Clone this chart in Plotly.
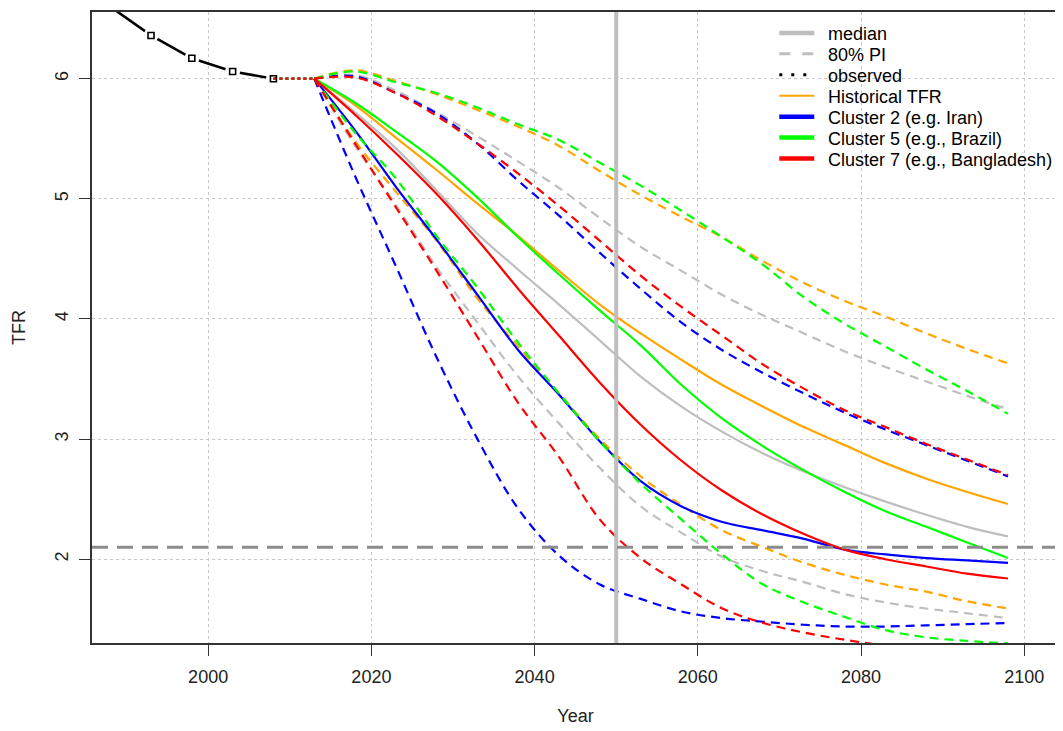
import plotly.graph_objects as go

# ---------------- data ----------------
obs_years = [1988, 1993, 1998, 2003, 2008]
obs_tfr = [6.60, 6.36, 6.17, 6.06, 6.00]

proj_years = [2008, 2013, 2018, 2023, 2028, 2033, 2038, 2043, 2048, 2053,
              2058, 2063, 2068, 2073, 2078, 2083, 2088, 2093, 2098]

gray_med = [6.0, 6.0, 5.72, 5.42, 5.07, 4.71, 4.41, 4.12, 3.82, 3.52, 3.27, 3.06, 2.88, 2.73, 2.60, 2.48, 2.37, 2.27, 2.19]
gray_up = [6.0, 6.0, 6.03, 5.90, 5.72, 5.52, 5.31, 5.09, 4.84, 4.60, 4.40, 4.20, 4.03, 3.88, 3.73, 3.60, 3.48, 3.36, 3.25]
gray_lo = [6.0, 6.0, 5.44, 4.95, 4.43, 3.97, 3.52, 3.13, 2.76, 2.44, 2.22, 2.02, 1.90, 1.81, 1.71, 1.64, 1.59, 1.55, 1.51]

orange_med = [6.0, 6.0, 5.78, 5.51, 5.24, 4.96, 4.69, 4.40, 4.12, 3.88, 3.66, 3.45, 3.27, 3.10, 2.95, 2.80, 2.67, 2.56, 2.46]
orange_up = [6.0, 6.0, 6.07, 5.98, 5.87, 5.74, 5.60, 5.44, 5.23, 5.03, 4.85, 4.68, 4.48, 4.30, 4.15, 4.02, 3.88, 3.75, 3.63]
orange_lo = [6.0, 6.0, 5.48, 5.06, 4.65, 4.17, 3.77, 3.38, 3.00, 2.69, 2.45, 2.24, 2.10, 1.97, 1.87, 1.79, 1.73, 1.65, 1.59]

blue_med = [6.0, 6.0, 5.57, 5.10, 4.66, 4.20, 3.74, 3.37, 2.98, 2.65, 2.44, 2.31, 2.24, 2.17, 2.08, 2.04, 2.01, 1.99, 1.97]
blue_up = [6.0, 6.0, 6.02, 5.88, 5.71, 5.46, 5.15, 4.86, 4.55, 4.25, 3.97, 3.74, 3.55, 3.38, 3.22, 3.08, 2.95, 2.82, 2.69]
blue_lo = [6.0, 6.0, 5.19, 4.44, 3.68, 3.00, 2.42, 2.03, 1.79, 1.67, 1.565, 1.51, 1.48, 1.455, 1.44, 1.44, 1.45, 1.46, 1.47]

green_med = [6.0, 6.0, 5.80, 5.56, 5.31, 5.01, 4.68, 4.37, 4.07, 3.78, 3.45, 3.17, 2.94, 2.74, 2.56, 2.40, 2.27, 2.14, 2.01]
green_up = [6.0, 6.0, 6.06, 5.97, 5.88, 5.76, 5.62, 5.49, 5.30, 5.11, 4.90, 4.68, 4.45, 4.18, 3.96, 3.77, 3.58, 3.40, 3.21]
green_lo = [6.0, 6.0, 5.55, 5.17, 4.69, 4.26, 3.80, 3.38, 2.98, 2.63, 2.33, 2.04, 1.79, 1.64, 1.52, 1.41, 1.35, 1.32, 1.30]

red_med = [6.0, 6.0, 5.70, 5.38, 5.04, 4.66, 4.25, 3.86, 3.47, 3.12, 2.82, 2.57, 2.37, 2.21, 2.08, 2.00, 1.94, 1.88, 1.84]
red_up = [6.0, 6.0, 6.01, 5.88, 5.69, 5.46, 5.21, 4.94, 4.65, 4.36, 4.10, 3.86, 3.62, 3.42, 3.24, 3.10, 2.96, 2.83, 2.70]
red_lo = [6.0, 6.0, 5.46, 4.93, 4.40, 3.85, 3.30, 2.85, 2.33, 2.01, 1.79, 1.59, 1.47, 1.39, 1.33, 1.28, 1.24, 1.21, 1.19]

x_ticks = [2000, 2020, 2040, 2060, 2080, 2100]
y_ticks = [2, 3, 4, 5, 6]
ref_year = 2050
ref_tfr = 2.1

legend_labels = ["median", "80% PI", "observed", "Historical TFR",
                 "Cluster 2 (e.g. Iran)", "Cluster 5 (e.g., Brazil)",
                 "Cluster 7 (e.g., Bangladesh)"]

# ---------------- styles ----------------
GRAY = "#BEBEBE"
FONT = "Liberation Sans, Arial, sans-serif"
DASH = "9px,6px"
LW = 2.2

fig = go.Figure()

# observed line first, with white halos at the points (R type="b" look)
fig.add_trace(go.Scatter(x=obs_years, y=obs_tfr, mode="lines",
                         line=dict(color="black", width=2.6),
                         showlegend=False, hoverinfo="skip"))
fig.add_trace(go.Scatter(x=obs_years, y=obs_tfr, mode="markers",
                         marker=dict(symbol="circle", size=15, color="white",
                                     line=dict(width=0)),
                         showlegend=False, hoverinfo="skip"))

series = [
    (GRAY, gray_med, gray_up, gray_lo),
    ("#FFA500", orange_med, orange_up, orange_lo),
    ("#0000FF", blue_med, blue_up, blue_lo),
    ("#00FF00", green_med, green_up, green_lo),
    ("#FF0000", red_med, red_up, red_lo),
]
for color, med, up, lo in series:
    for vals, dash in ((up, DASH), (lo, DASH), (med, "solid")):
        fig.add_trace(go.Scatter(x=proj_years[1:], y=vals[1:], mode="lines",
                                 line=dict(color=color, width=LW, dash=dash,
                                           shape="spline", smoothing=1.0),
                                 showlegend=False, hoverinfo="skip"))
    fig.add_trace(go.Scatter(x=proj_years[:2], y=med[:2], mode="lines",
                             line=dict(color=color, width=LW, dash="3px,3px"),
                             showlegend=False, hoverinfo="skip"))

fig.add_trace(go.Scatter(x=obs_years, y=obs_tfr, mode="markers",
                         marker=dict(symbol="square-open", size=6, color="black",
                                     line=dict(width=1.6, color="black")),
                         showlegend=False, hoverinfo="skip"))

# reference lines
fig.add_shape(type="line", xref="x", yref="paper", x0=ref_year, x1=ref_year, y0=0, y1=1,
              line=dict(color=GRAY, width=4))
fig.add_shape(type="line", xref="paper", yref="y", x0=0, x1=1, y0=ref_tfr, y1=ref_tfr,
              line=dict(color="#8C8C8C", width=3, dash="16px,9px"))

# ---------------- geometry (page body has an 8px margin) ----------------
OFF = 8
W, H = 1063 - OFF, 731 - OFF
ML, MR, MT, MB = 92 - OFF, 3, 10 - OFF, 88
pw, ph = W - ML - MR, H - MT - MB
PLOT_LEFT, PLOT_BOTTOM = 92, 643


def px(xp):
    return (xp - PLOT_LEFT) / pw


def py(yp):
    return (PLOT_BOTTOM - yp) / ph


# ---------------- manual legend (R-style, no box) ----------------
leg_rows = [31, 52, 73, 94, 115, 136, 157]
leg_styles = [
    dict(color=GRAY, width=4.5),
    dict(color=GRAY, width=3, dash="11px,12px"),
    dict(color="black", width=3, dash="3px,9px"),
    dict(color="#FFA500", width=2.2),
    dict(color="#0000FF", width=4.5),
    dict(color="#00FF00", width=4.5),
    dict(color="#FF0000", width=4.5),
]
for lab, yrow, st in zip(legend_labels, leg_rows, leg_styles):
    fig.add_shape(type="line", xref="paper", yref="paper",
                  x0=px(780), x1=px(815), y0=py(yrow), y1=py(yrow), line=st)
    fig.add_annotation(xref="paper", yref="paper", x=px(827), y=py(yrow + 1),
                       text=lab, showarrow=False, xanchor="left", yanchor="middle",
                       font=dict(family=FONT, size=18, color="black"))

axis_common = dict(
    showline=True, linecolor="#333333", linewidth=1.5, mirror=True,
    ticks="outside", ticklen=11, tickwidth=1.2, tickcolor="#333333",
    showgrid=True, gridcolor="#C8C8C8", griddash="dot", gridwidth=1,
    zeroline=False, tickfont=dict(family=FONT, size=18, color="#222222"),
)

fig.update_layout(
    width=W, height=H,
    margin=dict(l=ML, r=MR, t=MT, b=MB),
    plot_bgcolor="white", paper_bgcolor="white",
    showlegend=False,
    font=dict(family=FONT, size=18, color="#222222"),
    xaxis=dict(range=[1985.77, 2104.25], tickvals=x_ticks, ticklabelstandoff=6,
               title=dict(text="Year", standoff=23, font=dict(family=FONT, size=18)),
               **axis_common),
    yaxis=dict(range=[1.303, 6.555], tickvals=y_ticks, tickangle=-90, ticklabelstandoff=4,
               title=dict(text="TFR", standoff=22, font=dict(family=FONT, size=18)),
               **axis_common),
)

fig.write_html("out.html")
